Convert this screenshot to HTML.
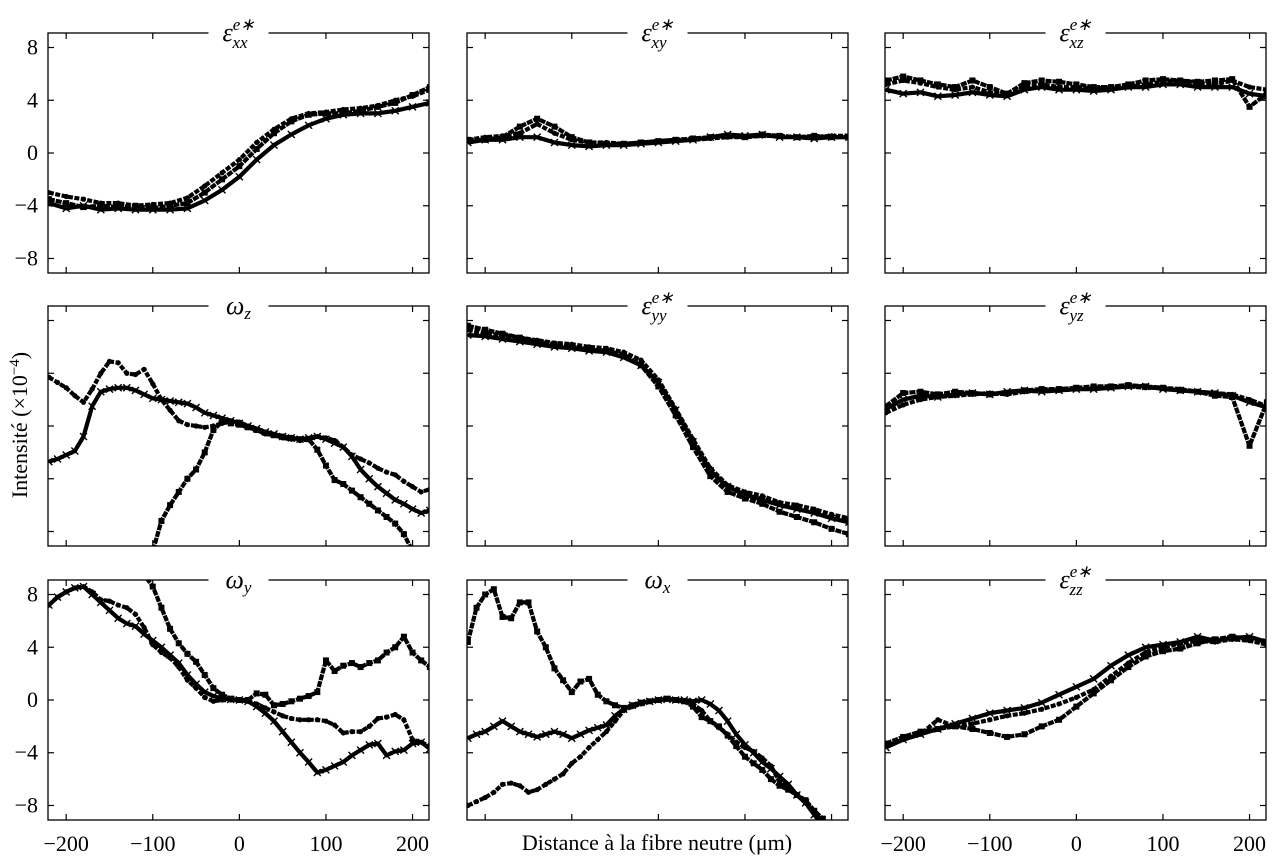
<!DOCTYPE html>
<html><head><meta charset="utf-8"><style>
html,body{margin:0;padding:0;background:#fff;}
svg{display:block;font-family:"Liberation Serif",serif;}
</style></head><body>
<svg id="chart" width="1284" height="858" viewBox="0 0 1284 858" xmlns="http://www.w3.org/2000/svg"></svg>
<script>
// ---- data ----
const xGrid20 = [-220,-200,-180,-160,-140,-120,-100,-80,-60,-40,-20,0,20,40,60,80,100,120,140,160,180,200,220];
const xGrid10 = [-220,-210,-200,-190,-180,-170,-160,-150,-140,-130,-120,-110,-100,-90,-80,-70,-60,-50,-40,-30,-20,-10,0,10,20,30,40,50,60,70,80,90,100,110,120,130,140,150,160,170,180,190,200,210,220];
const xTicks = [-200,-100,0,100,200];
const yTicks = [8,4,0,-4,-8];
const yTickLabels = ["8","4","0","\u22124","\u22128"];
const xTickLabels = ["\u2212200","\u2212100","0","100","200"];

const exxDots = [-3,-3.3,-3.5,-3.8,-3.8,-4,-3.9,-3.8,-3.4,-2.5,-1.5,-0.5,0.8,1.8,2.6,3,3.1,3.3,3.4,3.6,4,4.3,4.8];
const exxSquares = [-3.5,-3.8,-4.1,-4,-4.1,-4,-4.2,-4,-3.8,-3,-2,-1,0.3,1.5,2.4,2.9,3,3,3.2,3.5,3.8,4.4,5];
const exxCrosses = [-3.8,-4.2,-4,-4.3,-4.2,-4.3,-4.3,-4.3,-4.2,-3.6,-2.8,-1.8,-0.5,0.6,1.4,2.1,2.6,2.9,3,3,3.2,3.5,3.8];

const exyDots = [1,1.2,1.3,1.5,2.2,1.5,1,0.8,0.8,0.7,0.8,0.9,1,1,1.1,1.2,1.2,1.3,1.3,1.2,1.2,1.3,1.3];
const exySquares = [1,1,1.2,2,2.6,2,1.2,0.8,0.7,0.7,0.8,0.9,1,1.1,1.2,1.3,1.2,1.4,1.3,1.2,1.3,1.2,1.2];
const exyCrosses = [0.8,1,1,1.2,1.2,0.8,0.6,0.5,0.6,0.6,0.7,0.8,0.9,1,1.2,1.4,1.3,1.4,1.2,1.2,1.1,1.2,1.2];

const exzDots = [5.2,5.5,5.3,5,4.8,5,4.6,4.5,5,5.2,5,5,4.9,5,5,5.2,5.4,5.5,5.3,5.2,5.5,5,4.8];
const exzSquares = [5.5,5.8,5.5,5.2,5,5.5,5,4.5,5.3,5.5,5.4,5.2,5,5,5.2,5.5,5.6,5.5,5.4,5.5,5.6,3.5,4.5];
const exzCrosses = [4.8,4.5,4.6,4.3,4.4,4.6,4.4,4.3,4.8,5,4.8,4.8,4.7,4.8,5,5,5.2,5.2,5,5,5,4.5,4.3];

const wzDots = [3.7,3.3,2.9,2.3,1.8,2.8,4.0,4.9,4.8,4.0,3.9,4.3,3.2,2.0,1.2,0.4,0.1,0,-0.1,0,0.2,0.4,0.3,0,-0.3,-0.6,-0.7,-0.9,-1.0,-1.1,-1.0,-0.8,-0.9,-1.1,-1.6,-2.2,-2.5,-2.8,-3.2,-3.5,-3.7,-4.2,-4.6,-5.0,-4.8];
const wzSquares = [-15,-15,-15,-15,-15,-15,-14,-13,-12.5,-12,-11,-10,-9.5,-7.2,-6.0,-5.0,-4.0,-3.3,-2.0,-0.3,0.3,0.2,0.1,-0.1,-0.3,-0.5,-0.7,-0.8,-0.9,-1.0,-1.0,-1.8,-3.0,-4.1,-4.4,-4.9,-5.4,-5.9,-6.4,-6.9,-7.4,-8.2,-9.5,-11,-12];
const wzCrosses = [-2.7,-2.5,-2.2,-1.9,-0.8,1.5,2.6,2.8,2.9,2.9,2.7,2.4,2.1,2.0,1.9,1.8,1.7,1.4,1.0,0.8,0.6,0.4,0.2,0,-0.2,-0.45,-0.6,-0.8,-0.9,-1.0,-0.9,-0.8,-1.0,-1.3,-1.6,-2.3,-3.3,-4.0,-4.6,-5.1,-5.6,-5.9,-6.3,-6.6,-6.4];

const eyyDots = [7.3,7.0,6.9,6.7,6.5,6.3,6.2,6.0,5.9,5.6,5.0,3.5,1.3,-1.0,-3.2,-4.5,-5.0,-5.3,-5.8,-6.0,-6.3,-6.7,-7.0];
const eyySquares = [7.6,7.3,7.0,6.7,6.4,6.2,6.0,5.8,5.7,5.4,4.6,3.0,0.8,-1.6,-3.8,-5.0,-5.5,-5.9,-6.5,-6.9,-7.3,-7.8,-8.2];
const eyyCrosses = [6.9,6.8,6.6,6.4,6.2,6.0,5.9,5.7,5.6,5.2,4.6,3.3,1.2,-1.2,-3.4,-4.6,-5.2,-5.6,-6.0,-6.3,-6.6,-7.0,-7.3];

const eyzDots = [1.0,1.6,2.0,2.2,2.3,2.4,2.5,2.4,2.6,2.7,2.7,2.8,2.9,2.9,3.0,2.9,2.9,2.8,2.6,2.5,2.4,2.0,1.5];
const eyzSquares = [1.5,2.5,2.6,2.4,2.6,2.5,2.4,2.5,2.7,2.8,2.8,2.9,3.0,3.0,3.1,3.0,2.9,2.7,2.6,2.3,2.2,-1.5,1.8];
const eyzCrosses = [1.3,2.0,2.3,2.2,2.4,2.5,2.4,2.6,2.7,2.6,2.7,2.8,2.8,2.9,3.0,3.0,2.8,2.7,2.6,2.5,2.3,1.8,1.4];

const wyDots = [7.2,7.8,8.2,8.5,8.6,8.2,7.6,7.5,7.2,7.0,6.5,5.5,4.2,3.6,3.2,2.5,1.5,0.9,0.2,-0.1,0.0,0.0,0.0,-0.1,-0.3,-0.6,-0.9,-1.2,-1.4,-1.5,-1.5,-1.5,-1.6,-1.9,-2.5,-2.4,-2.4,-2.0,-1.4,-1.3,-1.1,-1.5,-3.0,-3.2,-3.5];
const wySquares = [15,15,14.5,14,13.5,13,12.5,12,11.5,11,10.2,9.5,8.6,7.0,5.4,4.3,3.5,2.9,1.9,0.9,0.4,0.1,0,0,0.5,0.4,-0.4,-0.3,-0.1,0.1,0.3,0.6,3.0,2.2,2.6,2.8,2.5,2.8,3.0,3.6,4.0,4.8,3.6,3.0,2.5];
const wyCrosses = [7.2,7.8,8.2,8.5,8.6,8.0,7.4,6.8,6.2,5.8,5.6,5.0,4.5,4.0,3.4,2.8,1.9,1.2,0.6,0.3,0.1,0.05,0,-0.1,-0.5,-1.0,-1.6,-2.4,-3.2,-4.0,-4.7,-5.5,-5.3,-5.0,-4.7,-4.2,-3.8,-3.4,-3.3,-4.2,-3.9,-3.8,-3.3,-3.2,-3.7];

const wxDots = [-8.0,-7.7,-7.4,-7.0,-6.4,-6.3,-6.5,-7.0,-6.8,-6.4,-6.0,-5.6,-4.8,-4.3,-3.6,-3.0,-2.4,-1.6,-0.8,-0.5,-0.3,-0.1,0,0.05,0,-0.1,-0.3,-0.8,-1.6,-2.1,-2.6,-3.2,-3.6,-3.9,-4.4,-5.0,-6.2,-6.8,-7.2,-7.8,-8.5,-9.3,-10,-11,-12];
const wxSquares = [4.4,7.0,8.0,8.4,6.3,6.2,7.4,7.4,5.2,4.0,2.4,1.5,0.6,1.4,1.6,0.4,-0.1,-0.4,-0.6,-0.4,-0.2,-0.1,0.0,0.1,0.0,-0.1,-0.5,-1.3,-1.6,-2.0,-2.7,-3.5,-4.3,-4.8,-5.3,-6.0,-6.5,-6.8,-7.2,-7.6,-8.4,-9.0,-10,-11,-12];
const wxCrosses = [-2.9,-2.6,-2.4,-2.0,-1.6,-2.0,-2.4,-2.6,-2.8,-2.6,-2.4,-2.6,-2.9,-2.6,-2.3,-2.1,-1.9,-1.2,-0.7,-0.4,-0.2,-0.1,0,0.05,0,0,-0.1,0,-0.3,-0.8,-1.6,-2.6,-3.4,-4.0,-4.7,-5.2,-5.8,-6.4,-7.2,-7.8,-8.7,-9.5,-10,-11,-12];

const ezzDots = [-3.5,-3.0,-2.6,-1.5,-2.0,-1.8,-1.5,-1.2,-1.0,-0.7,-0.3,0.2,0.8,1.8,2.8,3.6,4.0,4.3,4.5,4.4,4.6,4.5,4.2];
const ezzSquares = [-3.3,-2.8,-2.4,-2.2,-2.0,-2.2,-2.5,-2.8,-2.6,-2.0,-1.5,-0.5,0.5,1.5,2.5,3.3,3.7,3.9,4.3,4.6,4.8,4.6,4.3];
const ezzCrosses = [-3.6,-3.0,-2.6,-2.2,-1.8,-1.4,-1.0,-0.8,-0.6,-0.2,0.4,1.0,1.6,2.6,3.4,4.0,4.2,4.4,4.8,4.5,4.7,4.8,4.4];

const panels = [
 {name:'exx', sym:'ε', sup:'e∗', sub:'xx', col:0,row:0,x:xGrid20,s:[exxDots,exxSquares,exxCrosses]},
 {name:'exy', sym:'ε', sup:'e∗', sub:'xy', col:1,row:0,x:xGrid20,s:[exyDots,exySquares,exyCrosses]},
 {name:'exz', sym:'ε', sup:'e∗', sub:'xz', col:2,row:0,x:xGrid20,s:[exzDots,exzSquares,exzCrosses]},
 {name:'omega-z', sym:'ω', sup:'', sub:'z', col:0,row:1,x:xGrid10,s:[wzDots,wzSquares,wzCrosses]},
 {name:'eyy', sym:'ε', sup:'e∗', sub:'yy', col:1,row:1,x:xGrid20,s:[eyyDots,eyySquares,eyyCrosses]},
 {name:'eyz', sym:'ε', sup:'e∗', sub:'yz', col:2,row:1,x:xGrid20,s:[eyzDots,eyzSquares,eyzCrosses]},
 {name:'omega-y', sym:'ω', sup:'', sub:'y', col:0,row:2,x:xGrid10,s:[wyDots,wySquares,wyCrosses]},
 {name:'omega-x', sym:'ω', sup:'', sub:'x', col:1,row:2,x:xGrid10,s:[wxDots,wxSquares,wxCrosses]},
 {name:'ezz', sym:'ε', sup:'e∗', sub:'zz', col:2,row:2,x:xGrid20,s:[ezzDots,ezzSquares,ezzCrosses]},
];

const NS='http://www.w3.org/2000/svg';
const svg=document.getElementById('chart');
const colL=[48,467,885], PW=381, rowT=[33,306,580], PH=240;
const XMIN=-221, XMAX=219, YMIN=-9.1, YMAX=9.1;
function mk(tag,attrs,parent){const e=document.createElementNS(NS,tag);for(const k in attrs)e.setAttribute(k,attrs[k]);(parent||svg).appendChild(e);return e;}

panels.forEach((p,pi)=>{
  const L=colL[p.col], T=rowT[p.row];
  const sx=v=>L+(v-XMIN)/(XMAX-XMIN)*PW;
  const sy=v=>T+(YMAX-v)/(YMAX-YMIN)*PH;
  const g=mk('g',{});
  
  
  const cp=mk('clipPath',{id:'cp'+pi},g);
  mk('rect',{x:L,y:T,width:PW,height:PH},cp);
  const dg=mk('g',{'clip-path':'url(#cp'+pi+')'},g);
  const kinds=['dots','squares','crosses'];
  p.s.forEach((arr,si)=>{
    const sg=mk('g',{},dg);
    
    
    const pts=arr.map((v,i)=>sx(p.x[i]).toFixed(1)+','+sy(v).toFixed(1)).join(' ');
    mk('polyline',{points:pts,fill:'none',stroke:'#000','stroke-width':4.2,'stroke-linejoin':'round','stroke-dasharray':si===0?'5 1.5':(si===1?'6 1':'none')},sg);
    arr.forEach((v,i)=>{
      const cx=sx(p.x[i]), cy=sy(v);
      let m;
      if(si===0) m=mk('circle',{cx:cx,cy:cy,r:2.6,fill:'#000'},sg);
      else if(si===1) m=mk('rect',{x:cx-3,y:cy-3,width:6,height:6,fill:'#000'},sg);
      else m=mk('path',{d:`M${cx-3.5},${cy-3.5}L${cx+3.5},${cy+3.5}M${cx-3.5},${cy+3.5}L${cx+3.5},${cy-3.5}`,stroke:'#000','stroke-width':1.4},sg);
      
      
    });
  });
  const fr=mk('rect',{x:L,y:T,width:PW,height:PH,fill:'none',stroke:'#000','stroke-width':1.3},g);
  
  
  xTicks.forEach((t,i)=>{
    const x=sx(t);
    mk('line',{x1:x,y1:T+PH,x2:x,y2:T+PH-6,stroke:'#000','stroke-width':1.2},g);
    mk('line',{x1:x,y1:T,x2:x,y2:T+6,stroke:'#000','stroke-width':1.2},g);
    if(p.row===2 && p.col!==1){
      const tl=mk('text',{x:x,y:T+PH+31,'text-anchor':'middle','font-size':22},g);
      tl.textContent=xTickLabels[i];
      
      
    }
  });
  yTicks.forEach((t,i)=>{
    const y=sy(t);
    mk('line',{x1:L,y1:y,x2:L+6,y2:y,stroke:'#000','stroke-width':1.2},g);
    mk('line',{x1:L+PW,y1:y,x2:L+PW-6,y2:y,stroke:'#000','stroke-width':1.2},g);
    if(p.col===0 && p.row!==1){
      const tl=mk('text',{x:L-10,y:y+7,'text-anchor':'end','font-size':22},g);
      tl.textContent=yTickLabels[i];
      
      
    }
  });
  const cx=L+PW/2;
  mk('rect',{x:cx-30,y:T-14,width:60,height:28,fill:'#fff'},g);
  const tt=mk('text',{x:cx,y:T+8,'text-anchor':'middle','font-size':26,'font-style':'italic'},g);
  
  
  const s1=mk('tspan',{},tt); s1.textContent=p.sym;
  if(p.sup){ const s2=mk('tspan',{dy:-11,'font-size':17},tt); s2.textContent=p.sup;
    const s3=mk('tspan',{dx:-22,dy:18,'font-size':17},tt); s3.textContent=p.sub; }
  else { const s3=mk('tspan',{dy:5,'font-size':17},tt); s3.textContent=p.sub; }
});
const yl=mk('text',{x:0,y:0,'text-anchor':'middle','font-size':22,transform:'translate(27,425) rotate(-90)'});
yl.innerHTML='Intensité (×10<tspan dy="-8" font-size="15">−4</tspan><tspan dy="8">)</tspan>';


const xl=mk('text',{x:657,y:850,'text-anchor':'middle','font-size':22});
xl.textContent='Distance à la fibre neutre (μm)';


</script>
</body></html>
